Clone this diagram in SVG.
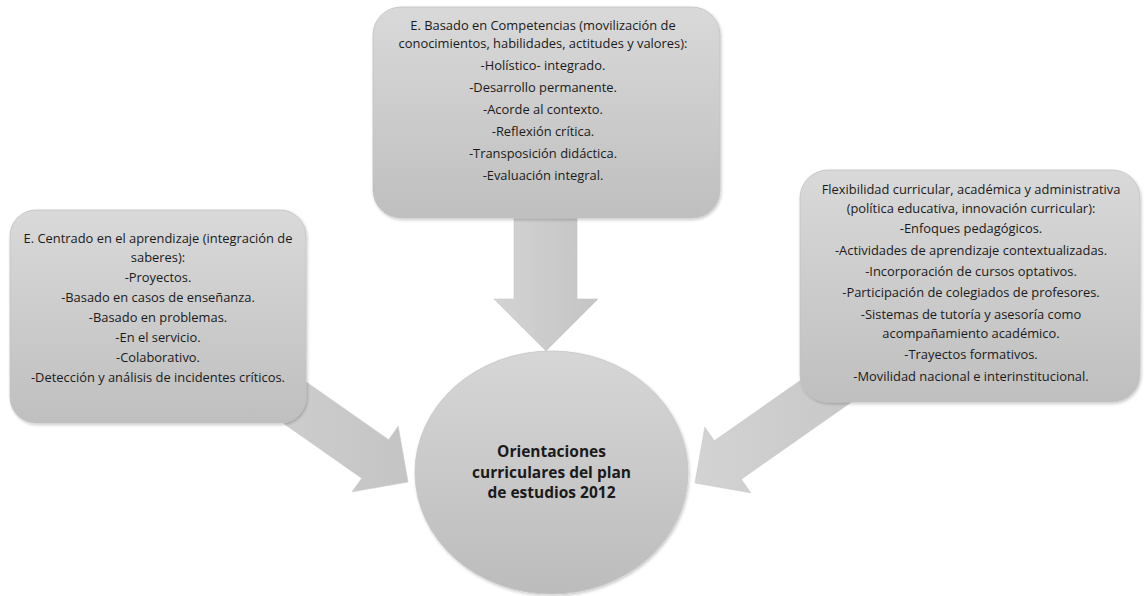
<svg xmlns="http://www.w3.org/2000/svg" width="1144" height="596" viewBox="0 0 1144 596">
  <defs>
    <linearGradient id="boxFill" x1="0" y1="0" x2="0" y2="1">
      <stop offset="0" stop-color="#d9d9d9"/>
      <stop offset="1" stop-color="#bfbfbf"/>
    </linearGradient>
    <linearGradient id="circleFill" x1="0" y1="0" x2="0" y2="1">
      <stop offset="0" stop-color="#d6d6d6"/>
      <stop offset="1" stop-color="#bcbcbc"/>
    </linearGradient>
    <linearGradient id="arrowFill" x1="0" y1="0" x2="1" y2="0">
      <stop offset="0" stop-color="#d3d3d3"/>
      <stop offset="1" stop-color="#c4c4c4"/>
    </linearGradient>
    <filter id="soft" x="-5%" y="-5%" width="112%" height="112%">
      <feDropShadow dx="1" dy="1.5" stdDeviation="1.5" flood-color="#000" flood-opacity="0.22"/>
    </filter>
  </defs>
  <style>
    .box { fill: url(#boxFill); stroke: #c2c2c2; stroke-width: 0.8; filter: url(#soft); }
    .hub { fill: url(#circleFill); stroke: #c6c6c6; stroke-width: 0.8; filter: url(#soft); }
    .arrow { fill: url(#arrowFill); stroke: #c8c8c8; stroke-width: 0.6; }
    .txt { font-family: "Open Sans", "Liberation Sans", sans-serif; font-size: 12.9px; fill: #1a1a1a; text-anchor: middle; }
    .hubtxt { font-family: "Open Sans", "Liberation Sans", sans-serif; font-size: 15.5px; font-weight: bold; fill: #1a1a1a; text-anchor: middle; }
  </style>
  <rect width="1144" height="596" fill="#ffffff"/>

  <!-- block arrows pointing into the central circle -->
  <g id="connectors">
    <polygon class="arrow" points="514,210 577,210 577,299 598,299 546,351 494,299 514,299"/>
    <polygon class="arrow" points="224.9,325.0 388.7,439.7 398.2,426.2 408,482 352.2,491.8 361.7,478.2 197.9,363.5"/>
    <polygon class="arrow" points="878.1,326.0 714.3,440.8 704.8,427.2 695,483 750.7,492.8 741.3,479.2 905.1,364.4"/>
  </g>

  <g id="node-competencias">
    <rect class="box" x="373" y="7" width="347" height="211" rx="28" ry="28"/>
    <text class="txt" x="543" y="29.5">E. Basado en Competencias (movilización de</text>
    <text class="txt" x="543" y="48">conocimientos, habilidades, actitudes y valores):</text>
    <text class="txt" x="543" y="69.5">-Holístico- integrado.</text>
    <text class="txt" x="543" y="91.5">-Desarrollo permanente.</text>
    <text class="txt" x="543" y="113.5">-Acorde al contexto.</text>
    <text class="txt" x="543" y="135.5">-Reflexión crítica.</text>
    <text class="txt" x="543" y="157.5">-Transposición didáctica.</text>
    <text class="txt" x="543" y="179.5">-Evaluación integral.</text>
  </g>

  <g id="node-aprendizaje">
    <rect class="box" x="10" y="210" width="296" height="213" rx="26" ry="26"/>
    <text class="txt" x="158" y="243">E. Centrado en el aprendizaje (integración de</text>
    <text class="txt" x="158" y="262">saberes):</text>
    <text class="txt" x="158" y="282">-Proyectos.</text>
    <text class="txt" x="158" y="302">-Basado en casos de enseñanza.</text>
    <text class="txt" x="158" y="322">-Basado en problemas.</text>
    <text class="txt" x="158" y="342">-En el servicio.</text>
    <text class="txt" x="158" y="362">-Colaborativo.</text>
    <text class="txt" x="158" y="382">-Detección y análisis de incidentes críticos.</text>
  </g>

  <g id="node-flexibilidad">
    <rect class="box" x="800" y="170" width="340" height="232" rx="28" ry="28"/>
    <text class="txt" x="971" y="194">Flexibilidad curricular,  académica y administrativa</text>
    <text class="txt" x="971" y="213">(política educativa, innovación curricular):</text>
    <text class="txt" x="971" y="233">-Enfoques pedagógicos.</text>
    <text class="txt" x="971" y="254.5">-Actividades de aprendizaje contextualizadas.</text>
    <text class="txt" x="971" y="276">-Incorporación de cursos optativos.</text>
    <text class="txt" x="971" y="297">-Participación de  colegiados de profesores.</text>
    <text class="txt" x="971" y="318.5">-Sistemas de tutoría y asesoría como</text>
    <text class="txt" x="971" y="337.5">acompañamiento académico.</text>
    <text class="txt" x="971" y="359">-Trayectos formativos.</text>
    <text class="txt" x="971" y="380.5">-Movilidad nacional e interinstitucional.</text>
  </g>

  <g id="node-orientaciones">
    <ellipse class="hub" cx="551.5" cy="472.5" rx="136.5" ry="121.5"/>
    <text class="hubtxt" x="551.5" y="457">Orientaciones</text>
    <text class="hubtxt" x="551.5" y="477.5">curriculares del plan</text>
    <text class="hubtxt" x="551.5" y="498">de estudios 2012</text>
  </g>
</svg>
